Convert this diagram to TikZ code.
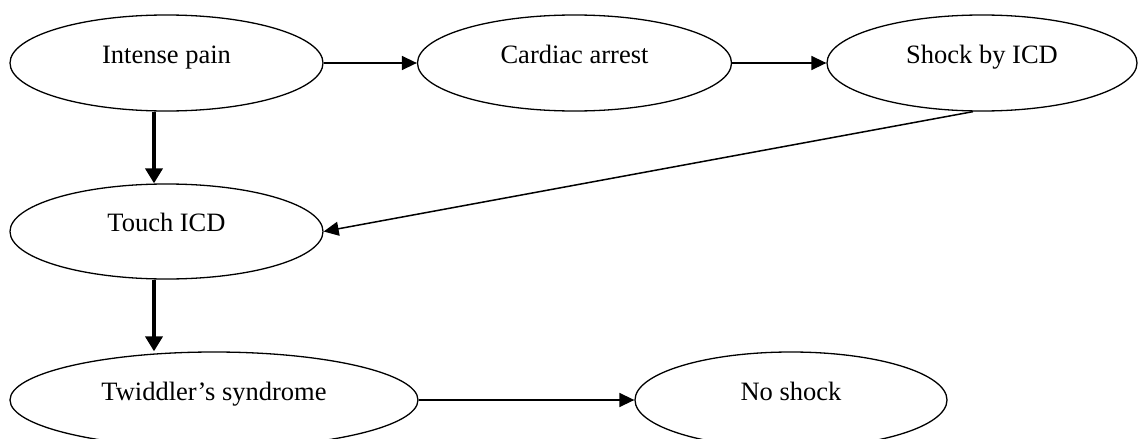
\documentclass[tikz,border=0pt]{standalone}
\usepackage{fontspec}
\setmainfont{Liberation Serif}
\usetikzlibrary{shapes.geometric, arrows.meta}
\tikzset{>={Triangle[length=15pt,width=14pt]},
    stage/.style={draw, ellipse, line width=1.3pt, minimum width=313pt, minimum height=96pt,
        inner sep=0pt, text height=0pt, text depth=0pt, font=\fontsize{26.5pt}{30pt}\selectfont},
    link/.style={->, line width=1.5pt},
    strong/.style={-{Triangle[length=15pt,width=17pt]}, line width=4.3pt}}

\begin{document}
\begin{tikzpicture}[x=1pt, y=-1pt]
    \path[use as bounding box, clip] (0,0) rectangle (1138,439);
    \node[stage] (pain) at (166.5,63) {Intense pain};
    \node[stage, minimum width=314pt] (arrest) at (574.5,63) {Cardiac arrest};
    \node[stage, minimum width=310pt] (shock) at (982,63) {Shock by ICD};
    \node[stage, minimum height=95pt] (touch) at (166.5,231.5) {Touch ICD};
    \node[stage, minimum width=408pt] (twiddler) at (214,400) {Twiddler’s syndrome};
    \node[stage, minimum width=312pt] (noshock) at (791,400) {No shock};
    \draw[link] (pain) -- (arrest);
    \draw[link] (arrest) -- (shock);
    \draw[link] ([xshift=-9pt]shock.south) -- (touch.east);
    \draw[link] (twiddler) -- (noshock);
    \draw[strong] ([xshift=-12.5pt]pain.south) -- ([xshift=-12.5pt]touch.north);
    \draw[strong] ([xshift=-12.5pt]touch.south) -- ([xshift=-12.5pt]touch.south |- twiddler.north);
\end{tikzpicture}
\end{document}
